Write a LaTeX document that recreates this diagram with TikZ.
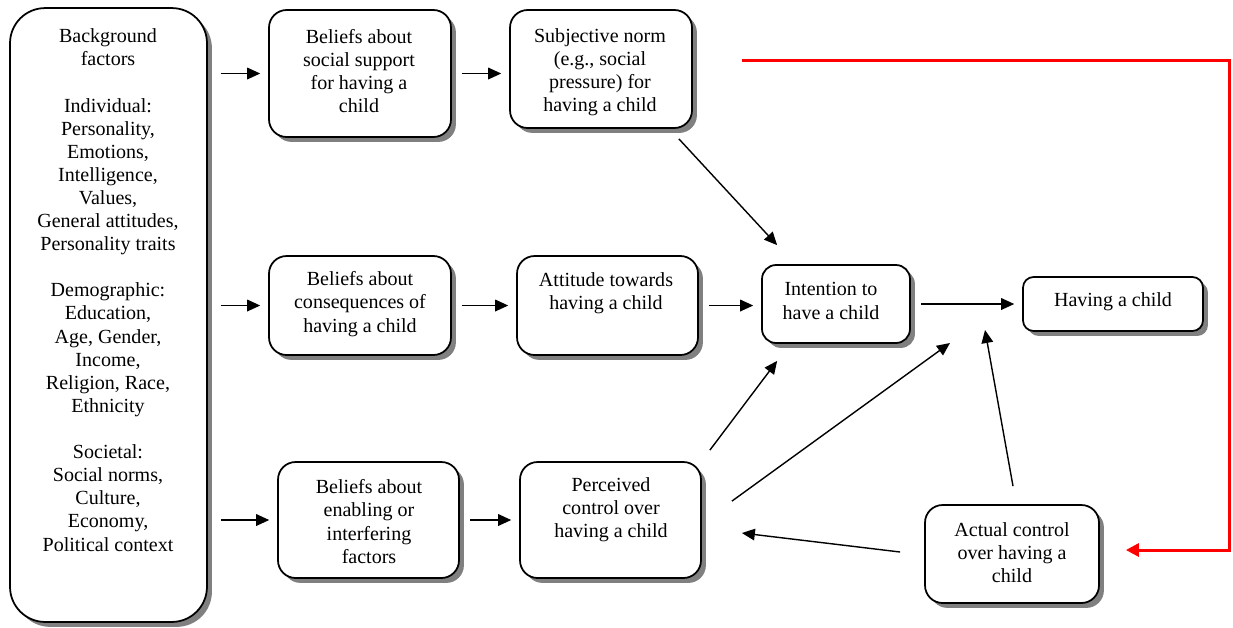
\documentclass[tikz,border=0pt]{standalone}
\usepackage{fontspec}
\setmainfont{Liberation Serif}
\usetikzlibrary{arrows.meta,shadows}

\tikzset{
  box/.style={draw, line width=1pt, fill=white, rounded corners=10pt,
    drop shadow={shadow xshift=2.8pt, shadow yshift=-2.8pt, fill=black!50, opacity=1}},
  txt/.style={align=center, inner sep=0pt, font=\fontsize{11.4}{13.15}\selectfont},
  arr/.style={-{Triangle[length=7.4pt,width=6.6pt]}, line width=0.8pt},
  gap/.style={shorten <=6pt, shorten >=4.5pt},
  redarr/.style={-{Triangle[length=7.4pt,width=7.4pt]}, red, line width=1.7pt}
}

\begin{document}
\begin{tikzpicture}[x=0.02cm, y=-0.02cm]
    \useasboundingbox (0,0) rectangle (1233,627);

    \node[box, rounded corners=20pt, minimum width=3.94cm, minimum height=12.28cm] (bg) at (108.5,315) {};
    \node[box, minimum width=3.64cm, minimum height=2.54cm] (b1) at (360,73.5) {};
    \node[box, minimum width=3.64cm, minimum height=2.36cm] (sn) at (601,69) {};
    \node[box, minimum width=3.64cm, minimum height=1.98cm] (b2) at (360,305.5) {};
    \node[box, minimum width=3.62cm, minimum height=1.98cm] (att) at (607.5,305.5) {};
    \node[box, rounded corners=8pt, minimum width=2.96cm, minimum height=1.56cm] (int) at (836,304) {};
    \node[box, rounded corners=6pt, minimum width=3.6cm, minimum height=1.08cm] (have) at (1113,304) {};
    \node[box, minimum width=3.62cm, minimum height=2.32cm] (b3) at (368.5,520) {};
    \node[box, minimum width=3.62cm, minimum height=2.32cm] (pc) at (610.5,520) {};
    \node[box, minimum width=3.48cm, minimum height=1.96cm] (ac) at (1012,554) {};

    \node[txt] (bgtext) at (108,290) {Background\\factors\\[13.15pt]Individual:\\Personality,\\Emotions,\\Intelligence,\\Values,\\General attitudes,\\Personality traits\\[13.15pt]Demographic:\\Education,\\Age, Gender,\\Income,\\Religion, Race,\\Ethnicity\\[13.15pt]Societal:\\Social norms,\\Culture,\\Economy,\\Political context};
    \node[txt] (b1text) at (359,71) {Beliefs about\\social support\\for having a\\child};
    \node[txt] (sntext) at (600,72) {Subjective norm\\(e.g., social\\pressure) for\\having a child};
    \node[txt] (b2text) at (360,304) {Beliefs about\\consequences of\\having a child};
    \node[txt] (atttext) at (606,293) {Attitude towards\\having a child};
    \node[txt] (inttext) at (831,301) {Intention to\\have a child};
    \node[txt] (havetext) at (1113,302) {Having a child};
    \node[txt] (b3text) at (369,521.5) {Beliefs about\\enabling or\\interfering\\factors};
    \node[txt] (pctext) at (611,510) {Perceived\\control over\\having a child};
    \node[txt] (actext) at (1012,553) {Actual control\\over having a\\child};

    \coordinate (pcend) at (950,343);
    \coordinate (acend) at (985,330);

    \foreach \n in {b1,b2,b3}
        \draw[arr, shorten <=7.4pt, shorten >=4.5pt] (bg.east |- \n.west) -- (\n.west);
    \draw[arr, gap] (b1.east) -- (sn.west |- b1.east);
    \draw[arr, gap] (b2.east) -- (att.west);
    \draw[arr, gap] (att.east) -- (att.east -| int.west);
    \draw[arr, gap] (int.east) -- (have.west);
    \draw[arr, gap] (b3.east) -- (pc.west);

    \draw[arr] ([shift={(-14,10)}]sn.south east) -- ([shift={(16,-19)}]int.north west);
    \draw[arr] ([shift={(8,-11)}]pc.north east) -- ([shift={(16,17)}]int.south west);
    \draw[arr] ([shift={(30,40)}]pc.north east) -- (pcend);
    \draw[arr] ([shift={(1,-18)}]ac.north) -- (acend);
    \draw[arr] ([shift={(-24,-2)}]ac.west) -- ([shift={(40,13)}]pc.east);

    \draw[redarr] ([shift={(49,-9)}]sn.east) -- ++(488,0) |- ([shift={(26,-4)}]ac.east);
\end{tikzpicture}
\end{document}
